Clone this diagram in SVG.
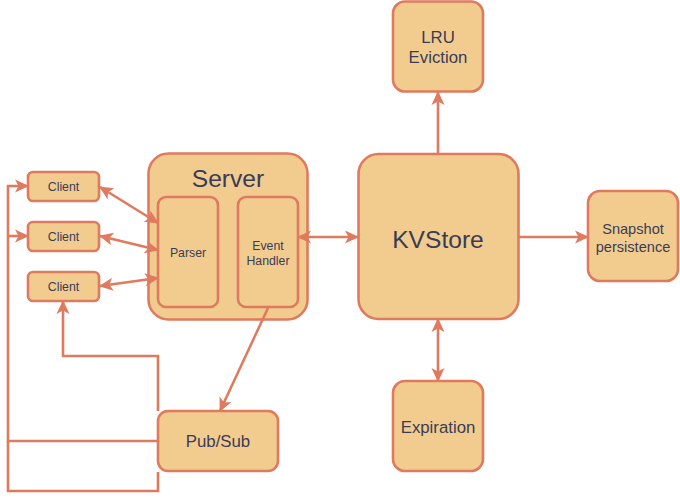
<svg xmlns="http://www.w3.org/2000/svg" width="680" height="501" viewBox="0 0 680 501">
<style>
.n{fill:#F2CC8F;stroke:#E07A5F;stroke-width:2.6}
.t{fill:#393C56;font-family:"Liberation Sans",Arial,sans-serif;text-anchor:middle;dominant-baseline:central}
.c{fill:none;stroke:#E07A5F;stroke-width:2.6}
</style>
<defs>
<marker id="a" viewBox="0 0 14 14" refX="13" refY="7" markerWidth="14" markerHeight="14" markerUnits="userSpaceOnUse" orient="auto-start-reverse">
<path d="M0,0.5 L14,7 L0,13.5 L3.5,7 z" fill="#E07A5F"/>
</marker>
</defs>
<rect width="680" height="501" fill="#fff"/>
<g id="lru"><rect class="n" x="393" y="1.5" width="90" height="90" rx="12"/><text class="t" x="438" y="37" font-size="16.8">LRU</text><text class="t" x="438" y="57" font-size="16.8">Eviction</text></g>
<g id="kvstore"><rect class="n" x="358.5" y="154" width="160" height="165" rx="20"/><text class="t" x="438" y="239" font-size="24.6">KVStore</text></g>
<g id="snapshot"><rect class="n" x="588" y="191" width="90" height="90" rx="12"/><text class="t" x="633" y="229" font-size="14.6">Snapshot</text><text class="t" x="633" y="247" font-size="14.6">persistence</text></g>
<g id="expiration"><rect class="n" x="393" y="381" width="90" height="90" rx="12"/><text class="t" x="438" y="427" font-size="16.8">Expiration</text></g>
<g id="server"><rect class="n" x="148.5" y="153.5" width="159" height="166" rx="20"/><text class="t" x="228" y="178" font-size="24.6">Server</text></g>
<g id="parser"><rect class="n" x="158" y="197" width="60" height="110" rx="8"/><text class="t" x="188" y="253" font-size="12.3">Parser</text></g>
<g id="eventhandler"><rect class="n" x="238" y="197" width="60" height="110" rx="8"/><text class="t" x="268" y="246" font-size="12.3">Event</text><text class="t" x="268" y="261" font-size="12.3">Handler</text></g>
<g id="client1"><rect class="n" x="28" y="172" width="71" height="29" rx="5"/><text class="t" x="63.5" y="187" font-size="12.3">Client</text></g>
<g id="client2"><rect class="n" x="28" y="222" width="71" height="29" rx="5"/><text class="t" x="63.5" y="237" font-size="12.3">Client</text></g>
<g id="client3"><rect class="n" x="28" y="272" width="71" height="29" rx="5"/><text class="t" x="63.5" y="287" font-size="12.3">Client</text></g>
<g id="pubsub"><rect class="n" x="158" y="411" width="120" height="60" rx="10"/><text class="t" x="218" y="441" font-size="16.8">Pub/Sub</text></g>
<g id="connectors">
<path class="c" d="M438,154 V92" marker-end="url(#a)"/>
<path class="c" d="M519,237 H588" marker-end="url(#a)"/>
<path class="c" d="M438,319 V381" marker-start="url(#a)" marker-end="url(#a)"/>
<path class="c" d="M298,237 H358" marker-start="url(#a)" marker-end="url(#a)"/>
<path class="c" d="M100,187 L158,223" marker-start="url(#a)" marker-end="url(#a)"/>
<path class="c" d="M100,236 L158,250" marker-start="url(#a)" marker-end="url(#a)"/>
<path class="c" d="M100,286 L158,278" marker-start="url(#a)" marker-end="url(#a)"/>
<path class="c" d="M268,308 L220,411" marker-end="url(#a)"/>
<path class="c" d="M158,411 V356 H63 V301" marker-end="url(#a)"/>
<path class="c" d="M158,441 H8 V186 H28" marker-end="url(#a)"/>
<path class="c" d="M8,236 H28" marker-end="url(#a)"/>
<path class="c" d="M158,472 V491 H8 V441"/>
</g>
</svg>
